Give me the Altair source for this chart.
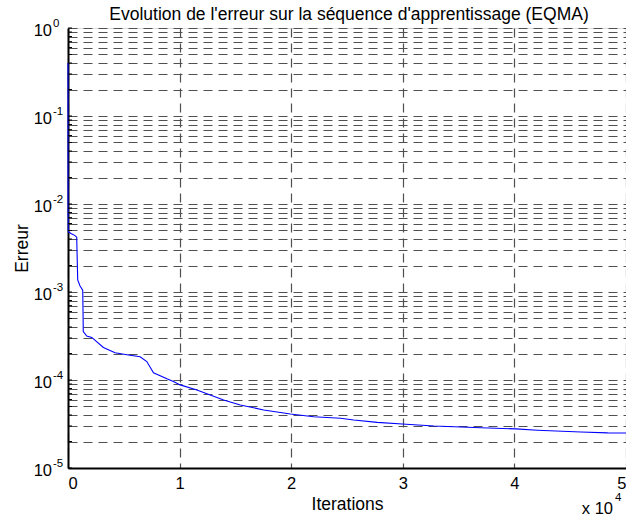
import altair as alt
import pandas as pd

# Curve
iterations = [0, 5, 20, 60, 300, 600, 780, 870, 1080, 1320, 1370, 1680, 2130, 3170,
              4220, 5270, 6460, 7060, 7660, 8260, 8860, 9450, 10050, 11550, 13940,
              15440, 17530, 19930, 22020, 24420, 25610, 27710, 29950, 32790, 36380,
              40120, 42070, 45960, 48360, 50000]
errors = [0.4, 0.01, 5.0e-3, 4.8e-3, 4.6e-3, 4.4e-3, 4.2e-3, 1.37e-3, 1.17e-3, 1.05e-3,
          3.55e-4, 3.16e-4, 3.05e-4, 2.34e-4, 2.04e-4, 1.94e-4, 1.84e-4, 1.62e-4,
          1.21e-4, 1.12e-4, 1.03e-4, 9.6e-5, 8.8e-5, 7.7e-5, 5.93e-5, 5.2e-5, 4.57e-5,
          4.1e-5, 3.83e-5, 3.67e-5, 3.51e-5, 3.3e-5, 3.16e-5, 3.0e-5, 2.88e-5, 2.78e-5,
          2.69e-5, 2.57e-5, 2.51e-5, 2.5e-5]

x_ticks = [0, 10000, 20000, 30000, 40000, 50000]
exponents = [0, -1, -2, -3, -4, -5]
grid_values = [m * 10.0 ** k for k in range(-5, 0) for m in range(1, 10)] + [1.0]
title_text = "Evolution de l'erreur sur la séquence d'apprentissage (EQMA)"

FONT = "Liberation Sans"
GRID = "#505050"
BIG = 17.5
TICK = 16.5

curve = pd.DataFrame({"it": iterations, "err": errors})
majors = pd.DataFrame({"v": [10.0 ** e for e in exponents], "e": [str(e) for e in exponents]})
minors = pd.DataFrame({"v": grid_values})

xscale = alt.Scale(domain=[0, 50000], nice=False, zero=False)
yscale = alt.Scale(type="log", domain=[1e-5, 1], nice=False)

line = alt.Chart(curve).mark_line(color="#0000ff", strokeWidth=1.1, interpolate="linear").encode(
    x=alt.X("it:Q", scale=xscale,
            axis=alt.Axis(values=x_ticks, labelExpr="datum.value / 10000", title="Iterations",
                          grid=True, gridDash=[9, 6], gridColor=GRID, gridWidth=1.2,
                          ticks=False, domainColor="black", domainWidth=2,
                          labelFontSize=TICK, labelColor="black", labelPadding=7,
                          labelFont=FONT, titleFont=FONT, titleFontSize=BIG,
                          titleFontWeight="normal", titleColor="black",
                          titleY=36, titleBaseline="middle")),
    y=alt.Y("err:Q", scale=yscale,
            axis=alt.Axis(values=grid_values, labels=False, title="Erreur",
                          grid=True, gridDash=[9, 6], gridColor=GRID, gridWidth=1.2,
                          ticks=False, domainColor="black", domainWidth=2,
                          titleFont=FONT, titleFontSize=BIG, titleFontWeight="normal",
                          titleColor="black", titleX=-46, titleY=220,
                          titleBaseline="middle", titleAlign="center", titleAngle=-90)),
)

minor_ticks = alt.Chart(minors).mark_rule(color="black", strokeWidth=1).encode(
    x=alt.value(0), x2=alt.value(4), y=alt.Y("v:Q", scale=yscale)
)

ten_labels = alt.Chart(majors).mark_text(
    text="10", align="right", baseline="middle", fontSize=TICK, font=FONT, color="black", dy=3
).encode(x=alt.value(-16), y=alt.Y("v:Q", scale=yscale))

exp_labels = alt.Chart(majors).mark_text(
    align="left", baseline="middle", fontSize=11.5, font=FONT, color="black", dy=-4
).encode(x=alt.value(-15), y=alt.Y("v:Q", scale=yscale), text="e:N")

mult = alt.Chart(pd.DataFrame({"t": ["x 10"]})).mark_text(
    align="right", baseline="middle", fontSize=TICK, font=FONT, color="black"
).encode(x=alt.value(545), y=alt.value(481), text="t:N")

mult_exp = alt.Chart(pd.DataFrame({"t": ["4"]})).mark_text(
    align="left", baseline="middle", fontSize=11.5, font=FONT, color="black"
).encode(x=alt.value(547), y=alt.value(470), text="t:N")

title = alt.Chart(pd.DataFrame({"t": [title_text]})).mark_text(
    align="center", baseline="alphabetic", fontSize=BIG, font=FONT, color="black"
).encode(x=alt.value(281), y=alt.value(-8), text="t:N")

chart = alt.layer(line, minor_ticks, ten_labels, exp_labels, mult, mult_exp, title).properties(
    width=558, height=440,
    autosize=alt.AutoSizeParams(type="none"),
    padding={"left": 68, "top": 28, "right": 0, "bottom": 52},
).configure_view(stroke="black", strokeWidth=2).configure(background="white")

chart.save("out.html", embed_options={"renderer": "svg", "actions": False})
